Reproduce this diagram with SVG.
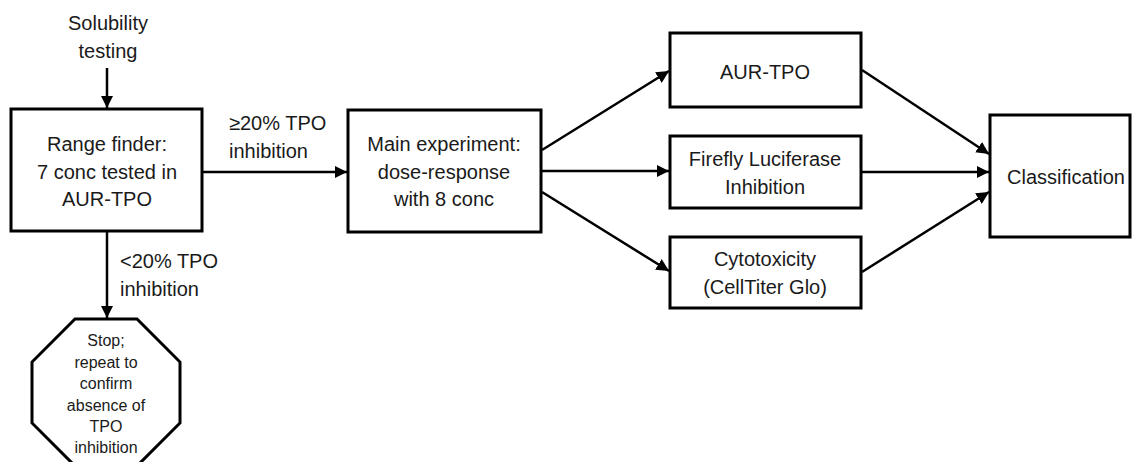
<svg xmlns="http://www.w3.org/2000/svg" width="1133" height="462" viewBox="0 0 1133 462">
<style>
.box{fill:#fff;stroke:#000;stroke-width:3}
.t{font-family:"Liberation Sans",Arial,sans-serif;font-size:20px;fill:#1a1a1a;text-anchor:middle}
.s{font-family:"Liberation Sans",Arial,sans-serif;font-size:16px;fill:#1a1a1a;text-anchor:middle}
.l{font-family:"Liberation Sans",Arial,sans-serif;font-size:20px;fill:#1a1a1a}
.c{stroke:#000;stroke-width:2.5;fill:none;marker-end:url(#ah)}
</style>
<defs>
<marker id="ah" viewBox="0 0 10 10" refX="10" refY="5" markerWidth="5" markerHeight="5" markerUnits="strokeWidth" orient="auto">
<path d="M0,0 L10,5 L0,10 z" fill="#000"/>
</marker>
</defs>
<rect width="1133" height="462" fill="#fff"/>
<g id="connectors">
<line class="c" x1="107" y1="68" x2="107" y2="108"/>
<line class="c" x1="203" y1="172" x2="347" y2="172"/>
<line class="c" x1="107" y1="232" x2="107" y2="318"/>
<line class="c" x1="542" y1="150" x2="669" y2="71"/>
<line class="c" x1="542" y1="171" x2="669" y2="171"/>
<line class="c" x1="542" y1="192" x2="669" y2="271"/>
<line class="c" x1="862" y1="70" x2="989" y2="154"/>
<line class="c" x1="862" y1="172" x2="989" y2="172"/>
<line class="c" x1="862" y1="272" x2="989" y2="192"/>
</g>
<g id="solubility">
<text class="t" x="108" y="30">Solubility</text>
<text class="t" x="108" y="58">testing</text>
</g>
<g id="range-finder">
<rect class="box" x="11" y="109" width="191" height="122"/>
<text class="t" x="107" y="151">Range finder:</text>
<text class="t" x="107" y="179">7 conc tested in</text>
<text class="t" x="107" y="206">AUR-TPO</text>
</g>
<g id="label-ge20">
<text class="l" x="229" y="130">≥20% TPO</text>
<text class="l" x="229" y="158">inhibition</text>
</g>
<g id="label-lt20">
<text class="l" x="120" y="268">&lt;20% TPO</text>
<text class="l" x="120" y="296">inhibition</text>
</g>
<g id="stop">
<polygon class="box" points="75,319 137,319 180,362 180,423 137,466 75,466 32,423 32,362"/>
<text class="s" x="106" y="346">Stop;</text>
<text class="s" x="106" y="368">repeat to</text>
<text class="s" x="106" y="389">confirm</text>
<text class="s" x="106" y="411">absence of</text>
<text class="s" x="106" y="432">TPO</text>
<text class="s" x="106" y="453">inhibition</text>
</g>
<g id="main">
<rect class="box" x="348" y="110" width="193" height="122"/>
<text class="t" x="444" y="151">Main experiment:</text>
<text class="t" x="444" y="179">dose-response</text>
<text class="t" x="444" y="206">with 8 conc</text>
</g>
<g id="aur-tpo">
<rect class="box" x="670" y="33" width="191" height="74"/>
<text class="t" x="765" y="79">AUR-TPO</text>
</g>
<g id="firefly">
<rect class="box" x="670" y="136" width="191" height="72"/>
<text class="t" x="765" y="166">Firefly Luciferase</text>
<text class="t" x="765" y="194">Inhibition</text>
</g>
<g id="cytotoxicity">
<rect class="box" x="670" y="237" width="191" height="71"/>
<text class="t" x="765" y="266">Cytotoxicity</text>
<text class="t" x="765" y="294">(CellTiter Glo)</text>
</g>
<g id="classification">
<rect class="box" x="990" y="115" width="140" height="122"/>
<text class="t" x="1066" y="184">Classification</text>
</g>
</svg>
